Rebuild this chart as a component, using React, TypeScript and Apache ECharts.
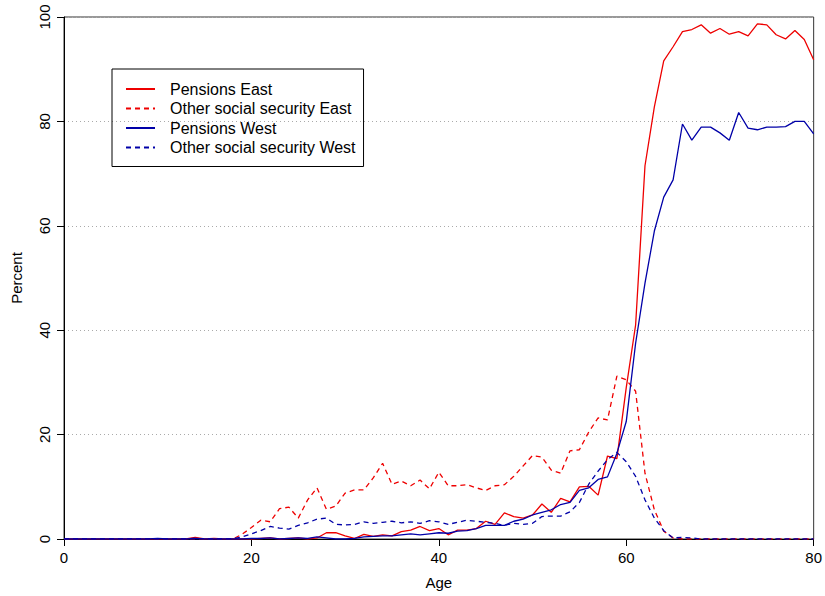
import React, { useEffect, useRef } from "react";
import * as echarts from "echarts";

const ages = [
  0, 1, 2, 3, 4, 5, 6, 7, 8, 9, 10, 11, 12, 13, 14, 15, 16, 17, 18, 19,
  20, 21, 22, 23, 24, 25, 26, 27, 28, 29, 30, 31, 32, 33, 34, 35, 36, 37, 38, 39,
  40, 41, 42, 43, 44, 45, 46, 47, 48, 49, 50, 51, 52, 53, 54, 55, 56, 57, 58, 59,
  60, 61, 62, 63, 64, 65, 66, 67, 68, 69, 70, 71, 72, 73, 74, 75, 76, 77, 78, 79, 80,
];

const pensionsEast = [
  0, 0, 0, 0, 0, 0, 0, 0, 0, 0, 0, 0, 0, 0, 0.3, 0, 0.1, 0, 0, 0,
  0, 0.1, 0.2, 0, 0.1, 0.2, 0, 0.2, 1.2, 1.2, 0.6, 0.1, 0.9, 0.5, 0.8, 0.6, 1.4, 1.7, 2.4, 1.6,
  2.0, 0.8, 1.7, 1.7, 2.0, 3.4, 2.8, 5.0, 4.3, 4.0, 4.6, 6.7, 5.1, 7.8, 7.1, 10.0, 10.1, 8.4, 15.9, 15.4,
  29, 41, 71.5, 82.8, 91.6, 94.3, 97.2, 97.6, 98.5, 96.9, 97.8, 96.7, 97.2, 96.4, 98.7, 98.5, 96.6, 95.8, 97.4, 95.7, 91.8,
];

const otherEast = [
  0, 0, 0, 0, 0, 0, 0, 0, 0, 0, 0, 0, 0, 0, 0, 0, 0, 0, 0, 0.9,
  2.2, 3.6, 3.3, 5.8, 6.1, 4.0, 7.5, 9.8, 5.7, 6.3, 8.8, 9.4, 9.4, 11.7, 14.5, 10.5, 11.1, 10.2, 11.3, 9.6,
  12.8, 10.2, 10.2, 10.4, 9.8, 9.3, 10.2, 10.4, 12.0, 14.0, 16.0, 15.7, 13.2, 12.6, 16.9, 17.1, 20.5, 23.2, 22.8, 31.2,
  30.5, 28.3, 12.6, 5.6, 1.5, 0.2, 0, 0, 0, 0, 0, 0, 0, 0, 0, 0, 0, 0, 0, 0, 0,
];

const pensionsWest = [
  0, 0, 0, 0, 0, 0, 0, 0, 0, 0, 0.1, 0, 0, 0, 0.1, 0, 0, 0, 0, 0,
  0.1, 0.1, 0.2, 0, 0.1, 0.2, 0.1, 0.4, 0.2, 0, 0, 0.1, 0.4, 0.5, 0.6, 0.6, 0.8, 1.0, 0.8, 1.0,
  1.2, 1.1, 1.5, 1.6, 2.0, 2.6, 2.6, 2.6, 3.4, 3.8, 4.6, 5.1, 5.6, 6.6, 7.0, 9.3, 9.8, 11.4, 11.9, 16.4,
  22.5, 37.5, 49, 59, 65.5, 68.8, 79.5, 76.4, 78.9, 78.9, 77.8, 76.4, 81.7, 78.7, 78.4, 78.9, 78.9, 79.0, 80.0, 80.0, 77.6,
];

const otherWest = [
  0, 0, 0, 0, 0, 0, 0, 0, 0, 0, 0, 0, 0, 0, 0.1, 0, 0, 0, 0, 0.4,
  1.0, 1.6, 2.4, 2.1, 1.9, 2.6, 3.1, 3.8, 4.0, 2.8, 2.7, 2.8, 3.3, 3.0, 3.2, 3.4, 3.1, 3.3, 3.0, 3.5,
  3.3, 2.8, 3.2, 3.6, 3.4, 3.2, 3.0, 2.6, 3.0, 2.8, 3.0, 4.3, 4.4, 4.4, 5.2, 7.0, 10.5, 13.0, 15.2, 16.6,
  14.8, 12.0, 7.5, 4.0, 1.6, 0.2, 0.3, 0.2, 0, 0, 0, 0, 0, 0, 0, 0, 0, 0, 0, 0, 0,
];

const seriesNames = [
  "Pensions East",
  "Other social security East",
  "Pensions West",
  "Other social security West",
];

const xTicks = { min: 0, max: 80, interval: 20 };
const yTicks = { min: 0, max: 100, interval: 20 };

const RED = "#ee0000";
const BLUE = "#0000a8";
const FONT = "'Liberation Sans', Arial, sans-serif";

export default function App() {
  const ref = useRef<HTMLDivElement>(null);

  useEffect(() => {
    if (!ref.current) return;
    const chart = echarts.init(ref.current, undefined, { renderer: "svg" });
    const pair = (vals: number[]) => ages.map((a, i) => [a, vals[i]]);
    const mk = (name: string, vals: number[], color: string, dashed: boolean) => ({
      name,
      type: "line",
      data: pair(vals),
      symbol: "none",
      showSymbol: false,
      lineStyle: {
        color,
        width: 1.3,
        type: dashed ? [5, 4] : "solid",
      },
      itemStyle: { color },
    });
    chart.setOption({
      animation: false,
      backgroundColor: "#ffffff",
      textStyle: { fontFamily: FONT },
      grid: {
        left: 64,
        right: 8,
        top: 17,
        bottom: 57,
        show: true,
        borderColor: "#333",
        borderWidth: 1,
      },
      legend: {
        data: seriesNames,
        orient: "vertical",
        left: 112,
        top: 69,
        itemWidth: 29,
        itemHeight: 14,
        itemGap: 3.5,
        padding: [12, 8, 11, 13],
        borderColor: "#000",
        borderWidth: 1,
        borderRadius: 0,
        selectedMode: false,
        itemStyle: { opacity: 0 },
        textStyle: {
          fontFamily: FONT,
          fontSize: 16,
          color: "#000",
          padding: [0, 0, 0, 10],
        },
      },
      xAxis: {
        type: "value",
        min: xTicks.min,
        max: xTicks.max,
        interval: xTicks.interval,
        name: "Age",
        nameLocation: "middle",
        nameGap: 36,
        nameTextStyle: { fontFamily: FONT, fontSize: 15, color: "#000" },
        axisLine: { lineStyle: { color: "#000", width: 1 } },
        axisTick: { show: true, length: 7, lineStyle: { color: "#000" } },
        axisLabel: { fontFamily: FONT, fontSize: 15, color: "#000", margin: 11 },
        splitLine: { show: false },
      },
      yAxis: {
        type: "value",
        min: yTicks.min,
        max: yTicks.max,
        interval: yTicks.interval,
        name: "Percent",
        nameLocation: "middle",
        nameGap: 40,
        nameTextStyle: { fontFamily: FONT, fontSize: 15, color: "#000" },
        axisLine: { show: true, lineStyle: { color: "#000", width: 1 } },
        axisTick: { show: true, length: 7, lineStyle: { color: "#000" } },
        axisLabel: { fontFamily: FONT, fontSize: 15, color: "#000", margin: 12, rotate: 90 },
        splitLine: { show: true, lineStyle: { color: "#aaaaaa", type: [1, 3], width: 1 } },
      },
      series: [
        mk(seriesNames[0], pensionsEast, RED, false),
        mk(seriesNames[1], otherEast, RED, true),
        mk(seriesNames[2], pensionsWest, BLUE, false),
        mk(seriesNames[3], otherWest, BLUE, true),
      ],
    });
    return () => chart.dispose();
  }, []);

  return (
    <div
      ref={ref}
      style={{ position: "fixed", left: 0, top: 0, width: 825, height: 596, background: "#fff" }}
    />
  );
}
